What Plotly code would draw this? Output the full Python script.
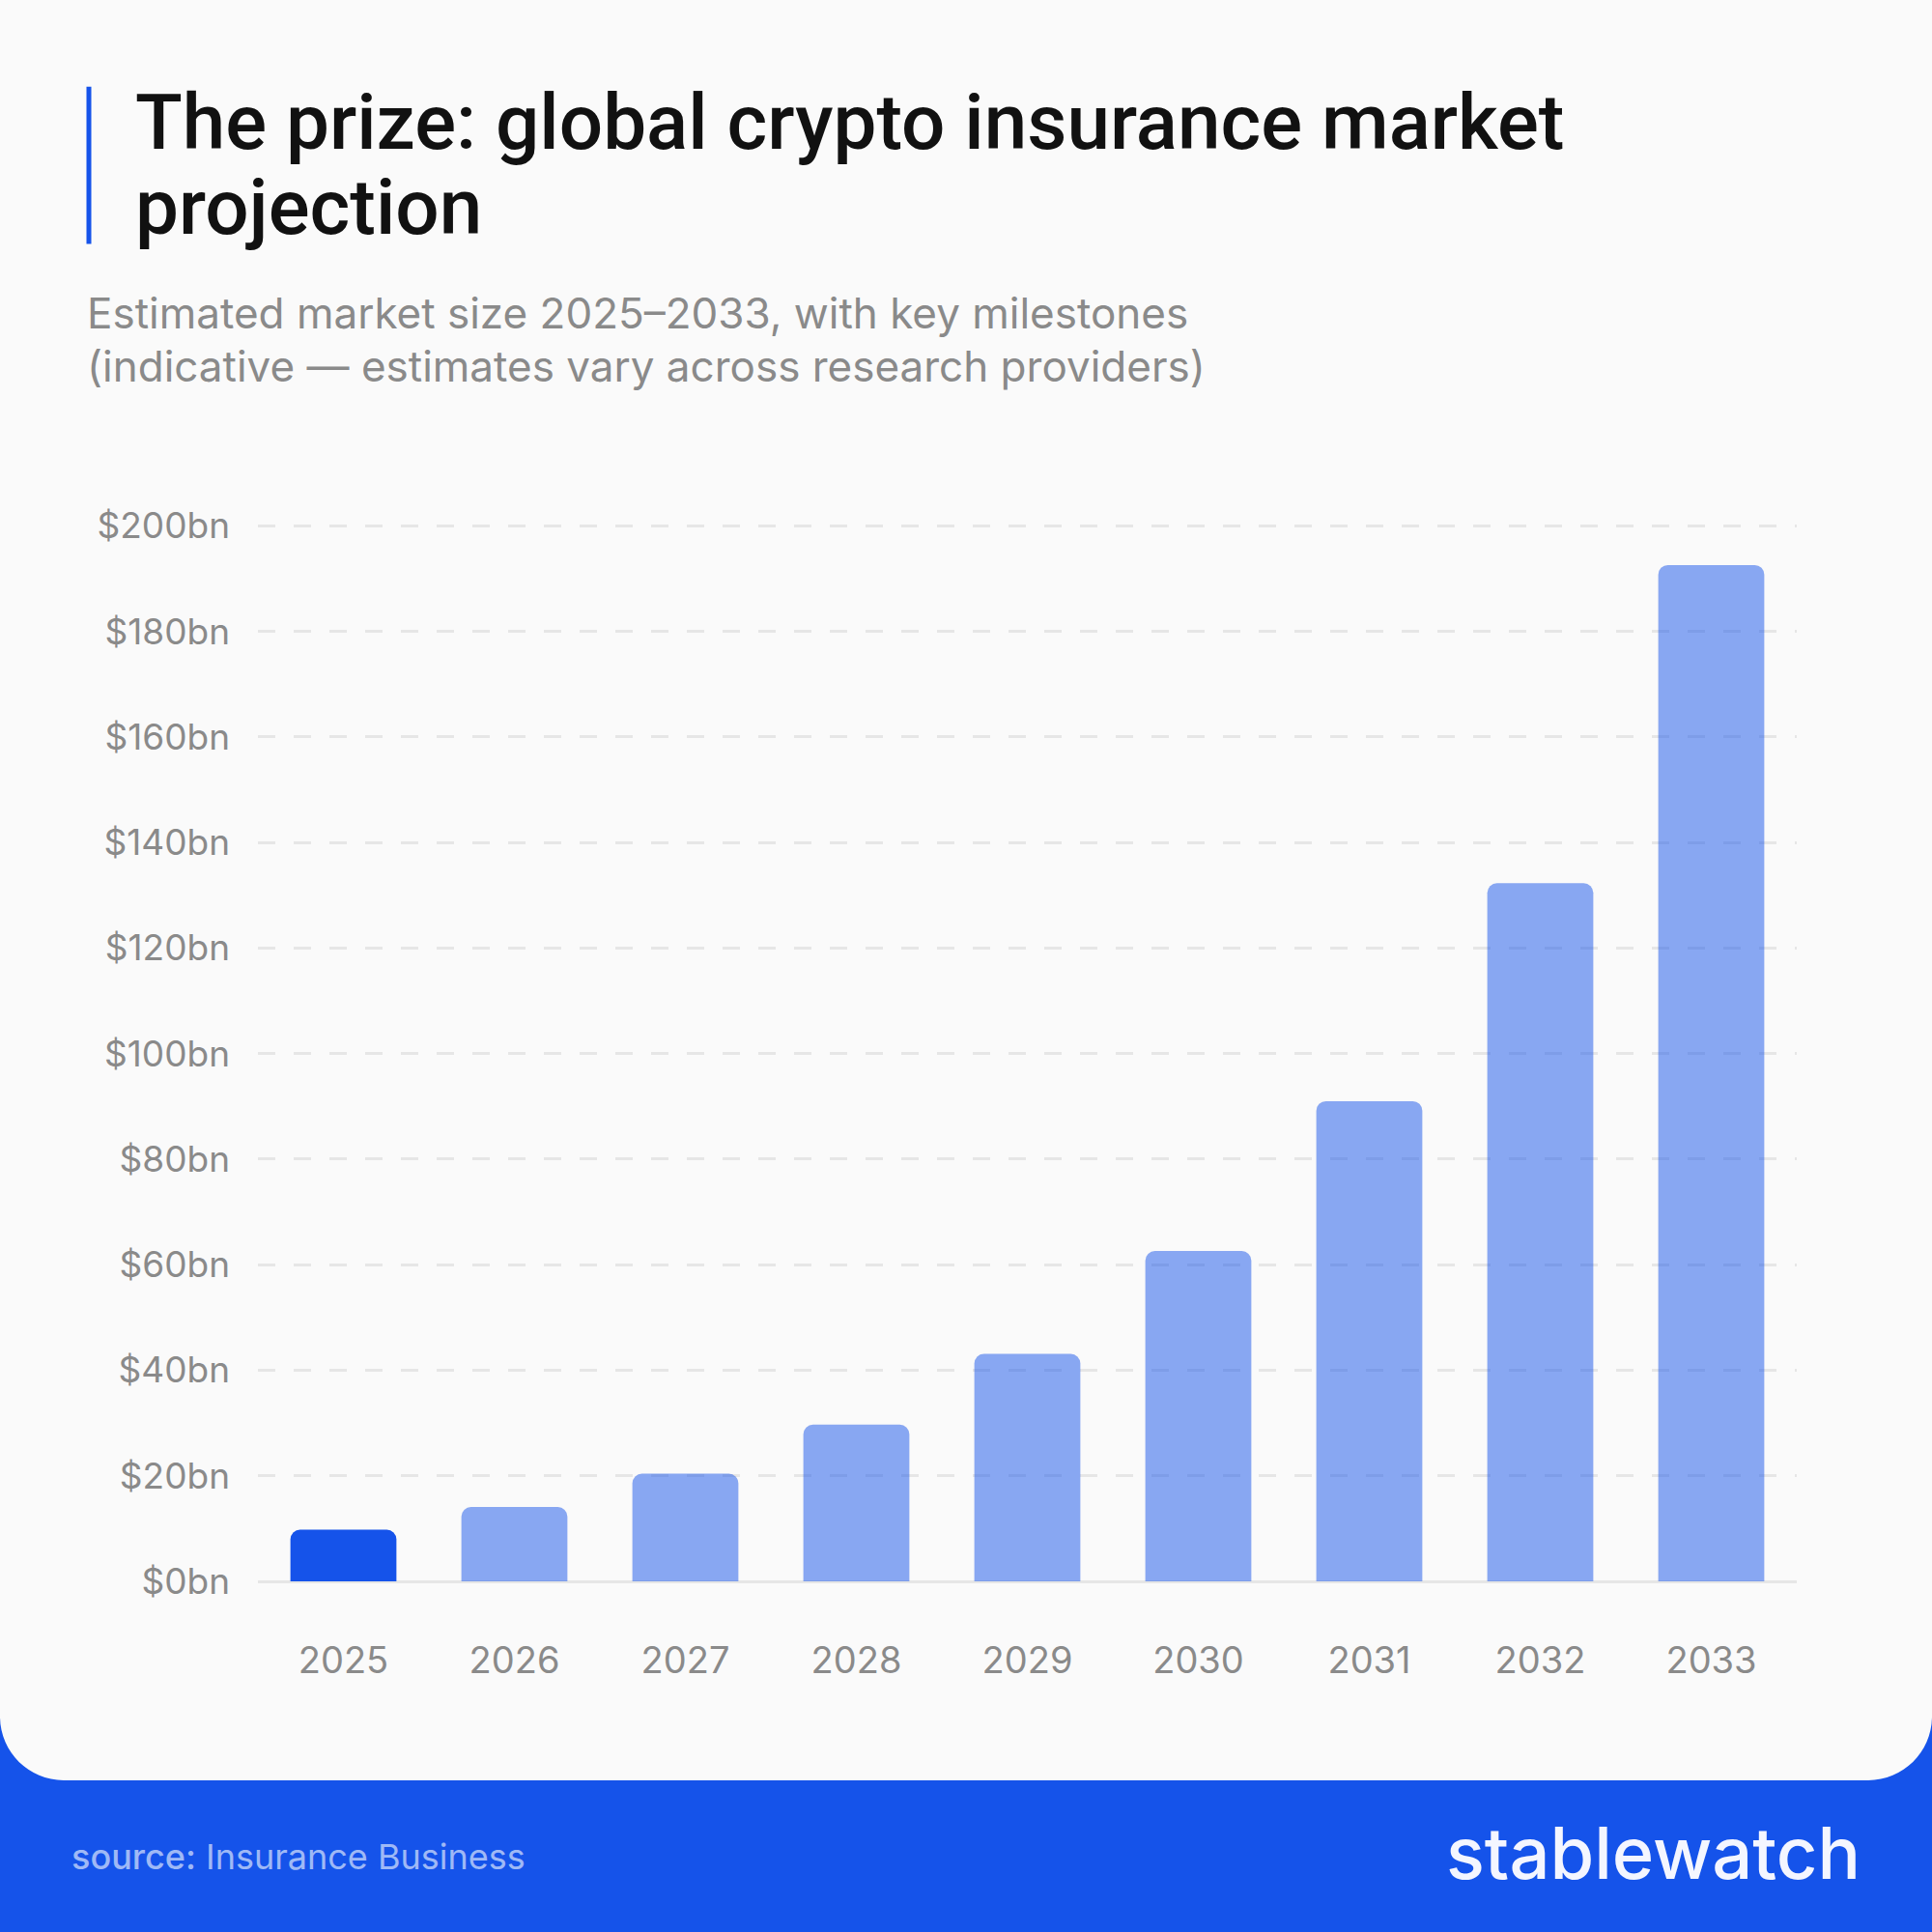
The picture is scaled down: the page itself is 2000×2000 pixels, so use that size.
import plotly.graph_objects as go

# market size projection, $bn
years = ['2025', '2026', '2027', '2028', '2029', '2030', '2031', '2032', '2033']
market_bn = [9.8, 14.1, 20.4, 29.7, 43.1, 62.6, 91.0, 132.3, 192.6]
y_ticks = [0, 20, 40, 60, 80, 100, 120, 140, 160, 180, 200]
y_labels = ['$0bn', '$20bn', '$40bn', '$60bn', '$80bn', '$100bn',
            '$120bn', '$140bn', '$160bn', '$180bn', '$200bn']

BLUE = '#1553EA'
GREY = '#8A8A8A'
CARD = '#FAFAFA'

# plot area in pixels ($0bn at y=1637, $200bn at y=544)
W, H = 2000, 2000
Y_MAX = 201
PL, PR, PB = 267, 1860, 1637
PT = PB - (PB - 544) * Y_MAX / 200


def px_x(px):
    return (px - PL) / (PR - PL)


def px_y(py):
    return (PB - py) / (PB - PT)


bar_colors = [BLUE] + ['rgba(21,83,234,0.5)'] * (len(years) - 1)

fig = go.Figure()
fig.add_trace(go.Bar(x=years, y=market_bn, marker_color=bar_colors,
                     marker_line_width=0, marker_cornerradius=10))

# white card with rounded bottom corners on the blue background
cb, r = 1843, 66
k = r * 0.552
x_l, x_r, y_t = -10, W + 10, -10
card_path = (
    f'M {px_x(x_l)},{px_y(y_t)} L {px_x(x_r)},{px_y(y_t)} '
    f'L {px_x(W)},{px_y(cb - r)} '
    f'C {px_x(W)},{px_y(cb - r + k)} {px_x(W - r + k)},{px_y(cb)} {px_x(W - r)},{px_y(cb)} '
    f'L {px_x(r)},{px_y(cb)} '
    f'C {px_x(r - k)},{px_y(cb)} {px_x(0)},{px_y(cb - r + k)} {px_x(0)},{px_y(cb - r)} Z'
)
fig.add_shape(type='path', path=card_path, xref='paper', yref='paper',
              fillcolor=CARD, line_width=0, layer='below')

# blue accent bar next to the title
fig.add_shape(type='rect', xref='paper', yref='paper',
              x0=px_x(89.5), x1=px_x(94.5), y0=px_y(252), y1=px_y(89),
              fillcolor=BLUE, line_width=0, layer='below')


def text(s, x, y, size, color, xanchor='left', weight=400, family='Inter'):
    fig.add_annotation(text=s, x=px_x(x), y=px_y(y), xref='paper', yref='paper',
                       xanchor=xanchor, yanchor='middle', showarrow=False,
                       font=dict(family=family, size=size, color=color, weight=weight))


text('The prize: global crypto insurance market', 138, 126, 80, '#111111', weight=500, family='Roboto')
text('projection', 138, 214, 80, '#111111', weight=500, family='Roboto')
text('Estimated market size 2025–2033, with key milestones', 88, 323, 44, GREY)
text('(indicative — estimates vary across research providers)', 88, 378, 44, GREY)
text('<span style="font-weight:500">source:</span> Insurance Business', 72, 1922, 36,
     'rgba(255,255,255,0.6)')
text('stablewatch', 1928, 1918, 74, '#F4F6FF', xanchor='right', weight=500)

fig.update_layout(
    width=W, height=H,
    margin=dict(l=PL, r=W - PR, t=PT, b=H - PB),
    paper_bgcolor=BLUE, plot_bgcolor=CARD,
    bargap=0.38, showlegend=False,
    font=dict(family='Inter', size=37, color=GREY),
)
fig.update_xaxes(type='category', showgrid=False, showline=False,
                 ticks='', ticklabelstandoff=56,
                 tickfont=dict(family='Inter', size=38, color=GREY))
fig.update_yaxes(range=[0, Y_MAX], tickvals=y_ticks, ticktext=y_labels,
                 showgrid=True, gridcolor='#E6E6E6', gridwidth=3, griddash='18px,19px',
                 zeroline=True, zerolinecolor='#E6E6E6', zerolinewidth=3,
                 showline=False, ticks='', ticklabelstandoff=28,
                 tickfont=dict(family='Inter', size=37, color=GREY))

# drop the page margin so the figure fills the window
fig.write_html('out.html', config={'displayModeBar': False},
               post_script="document.body.style.margin='0';document.body.style.overflow='hidden';")
